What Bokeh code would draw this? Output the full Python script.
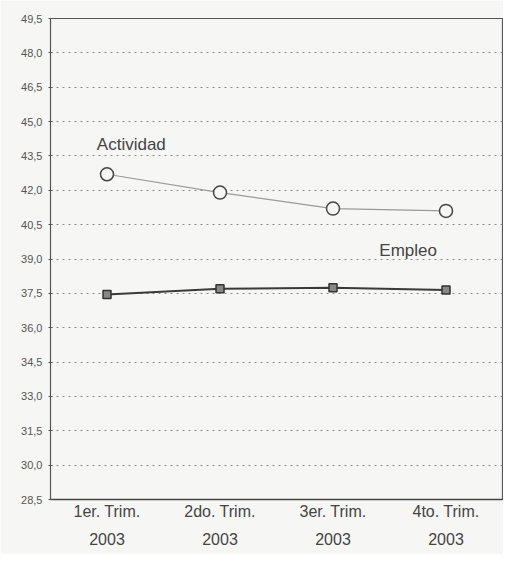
from bokeh.plotting import figure
from bokeh.models import FixedTicker, Label, Range1d, FactorRange
from bokeh.embed import file_html
from bokeh.resources import INLINE

categories = ["1er. Trim.\n2003", "2do. Trim.\n2003", "3er. Trim.\n2003", "4to. Trim.\n2003"]
actividad = [42.7, 41.9, 41.2, 41.1]
empleo = [37.45, 37.7, 37.75, 37.65]
y_ticks = [28.5, 30.0, 31.5, 33.0, 34.5, 36.0, 37.5, 39.0, 40.5, 42.0, 43.5, 45.0, 46.5, 48.0, 49.5]
y_tick_labels = ["28,5", "30,0", "31,5", "33,0", "34,5", "36,0", "37,5", "39,0",
                 "40,5", "42,0", "43,5", "45,0", "46,5", "48,0", "49,5"]

FONT = "Liberation Sans"
BG = "#f6f6f4"

p = figure(width=503, height=554, x_range=FactorRange(*categories),
           y_range=Range1d(28.5, 49.5), output_backend="svg", toolbar_location=None,
           min_border_left=50, min_border_right=1, min_border_top=18, min_border_bottom=55)
p.background_fill_color = BG
p.border_fill_color = BG
p.outline_line_color = "#555555"
p.outline_line_width = 1.2

p.xgrid.grid_line_color = None
p.ygrid.grid_line_color = "#8a8a8a"
p.ygrid.grid_line_dash = "2 4"
p.ygrid.grid_line_width = 1

p.yaxis.ticker = FixedTicker(ticks=y_ticks)
p.yaxis.major_label_overrides = {t: l for t, l in zip(y_ticks, y_tick_labels)}
p.yaxis.major_label_text_font = FONT
p.yaxis.major_label_text_font_size = "11px"
p.yaxis.major_label_text_color = "#555555"
p.yaxis.axis_line_color = "#555555"
p.yaxis.major_tick_line_color = "#555555"
p.yaxis.major_tick_out = 2
p.yaxis.major_tick_in = 2
p.yaxis.minor_tick_line_color = None
p.yaxis.major_label_standoff = 6

p.xaxis.axis_line_color = "#444444"
p.xaxis.axis_line_width = 1.5
p.xaxis.major_tick_line_color = None
p.xaxis.major_tick_out = 0
p.xaxis.major_label_text_font = FONT
p.xaxis.major_label_text_font_size = "16px"
p.xaxis.major_label_text_line_height = 1.65
p.xaxis.major_label_text_color = "#444444"
p.xaxis.major_label_standoff = 3

p.line(categories, actividad, line_color="#9a9a9a", line_width=1.2)
p.scatter(categories, actividad, marker="circle", size=13, fill_color=BG,
          line_color="#444444", line_width=1.5)

p.line(categories, empleo, line_color="#3a3a3a", line_width=2)
p.scatter(categories, empleo, marker="square", size=8, fill_color="#888888",
          line_color="#333333", line_width=1.5)

p.add_layout(Label(x=0.41, y=44.0, text="Actividad", text_font=FONT,
                   text_font_size="17px", text_color="#444444", text_baseline="middle"))
p.add_layout(Label(x=2.91, y=39.35, text="Empleo", text_font=FONT,
                   text_font_size="17px", text_color="#444444", text_baseline="middle"))

open("out.html", "w").write(file_html(p, INLINE))
